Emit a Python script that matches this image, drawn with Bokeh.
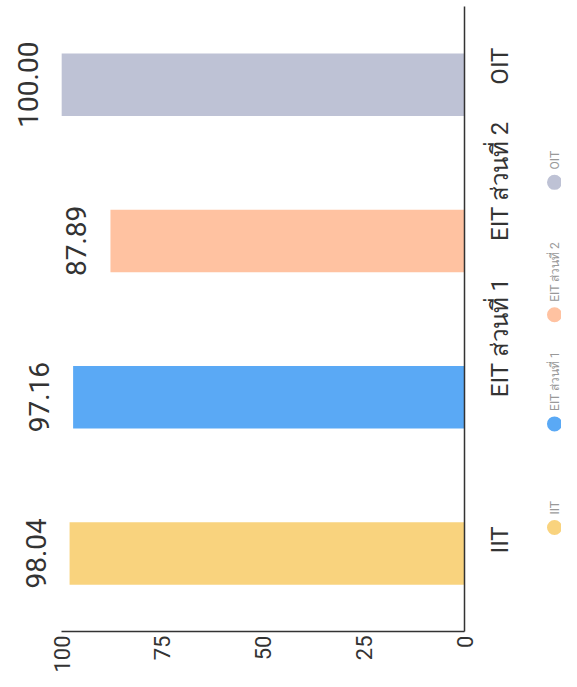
import math
from bokeh.plotting import figure
from bokeh.layouts import row
from bokeh.models import Range1d, FactorRange, FixedTicker, ColumnDataSource
from bokeh.transform import dodge
from bokeh.core.properties import value
from bokeh.embed import file_html
from bokeh.resources import INLINE

# ---- data ----
categories = ["IIT", "EIT ส่วนที่ 1", "EIT ส่วนที่ 2", "OIT"]
scores = [98.04, 97.16, 87.89, 100.00]
bar_colors = ["#F9D37E", "#5AA9F5", "#FFC2A1", "#BEC2D5"]
value_ticks = [0, 25, 50, 75, 100]

labels = ["%.2f" % v for v in scores]
src = ColumnDataSource(dict(cat=categories, val=scores, color=bar_colors, label=labels))

FONT = "Roboto, 'Noto Sans', sans-serif"
TXT = "#333333"

MAIN_W = 534
TOTAL_W = 561
TOTAL_H = 671

# ---- main (rotated) bar chart ----
p = figure(
    frame_width=456, frame_height=625,
    x_range=Range1d(start=113.2, end=0),
    y_range=FactorRange(factors=categories),
    y_axis_location="right",
    min_border_left=8, min_border_top=6, min_border_right=MAIN_W - 464,
    min_border_bottom=40,
    output_backend="svg", toolbar_location=None,
)
p.outline_line_color = None
p.grid.visible = False

p.hbar(y="cat", left=0, right="val", height=0.4, color="color",
       line_color=None, source=src)

p.text(x=dodge("val", 8.44, range=p.x_range), y="cat", text="label", source=src,
       angle=math.pi / 2, text_align="center", text_baseline="middle",
       text_font=value(FONT), text_font_size="28px", text_color=TXT)

# value axis (bottom)
xa = p.xaxis[0]
xa.ticker = FixedTicker(ticks=value_ticks)
xa.bounds = (0, 100)
xa.major_label_orientation = math.pi / 2
xa.major_label_text_font = FONT
xa.major_label_text_font_size = "22px"
xa.major_label_text_color = TXT
xa.major_label_standoff = 4
xa.major_tick_line_color = None
xa.minor_tick_line_color = None
xa.major_tick_out = 0
xa.major_tick_in = 0
xa.axis_line_color = "#333333"
xa.axis_line_width = 1.5

# category axis (right)
ya = p.yaxis[0]
ya.major_label_orientation = math.pi / 2
ya.major_label_text_font = FONT
ya.major_label_text_font_size = "24px"
ya.major_label_text_color = TXT
ya.major_label_standoff = 35
ya.major_tick_line_color = None
ya.minor_tick_line_color = None
ya.major_tick_out = 0
ya.major_tick_in = 0
ya.axis_line_color = "#333333"
ya.axis_line_width = 1.5

# ---- rotated legend strip ----
legend_y = [563, 451, 333, 190]   # layout positions of legend items (page px)
lsrc = ColumnDataSource(dict(y=legend_y, ty=[v - 14 for v in legend_y],
                             color=bar_colors, name=categories))
lg = figure(width=TOTAL_W - MAIN_W, height=TOTAL_H,
            x_range=Range1d(MAIN_W, TOTAL_W), y_range=Range1d(TOTAL_H, 0),
            min_border=0, output_backend="svg", toolbar_location=None,
            x_axis_type=None, y_axis_type=None)
lg.outline_line_color = None
lg.grid.visible = False
lg.scatter(x=554, y="y", size=15, color="color", line_color=None, source=lsrc)
lg.text(x=554, y="ty", text="name", source=lsrc, angle=math.pi / 2,
        text_align="left", text_baseline="middle",
        text_font=value(FONT), text_font_size="12px", text_color="#999999")

layout = row(p, lg)
open("out.html", "w").write(file_html(layout, INLINE))
